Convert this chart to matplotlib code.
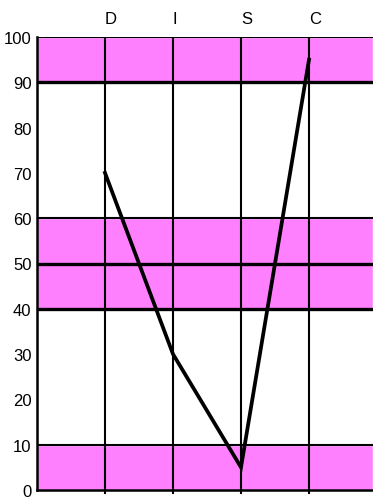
import matplotlib
matplotlib.use("Agg")
import matplotlib.pyplot as plt

# --- data ---
CATEGORIES = ["D", "I", "S", "C"]
SCORES = [70, 30, 5, 95]
BANDS = [(90, 100), (40, 60), (0, 10)]          # shaded zones
THICK_LINES = [90, 50, 40]
THIN_LINES = [60, 10, 100]
Y_TICKS = list(range(0, 101, 10))

PINK = "#ff80ff"

plt.rcParams["font.family"] = ["Liberation Sans", "DejaVu Sans"]

fig = plt.figure(figsize=(3.73, 5.02), dpi=100)
ax = fig.add_axes([37 / 373, 11 / 502, 336 / 373, 453 / 502])

xs = list(range(1, len(CATEGORIES) + 1))
ax.set_xlim(0, 336 / 68)
ax.set_ylim(0, 100)

for lo, hi in BANDS:
    ax.axhspan(lo, hi, facecolor=PINK, edgecolor="white", lw=1.0, zorder=0)
for y in THIN_LINES:
    ax.axhline(y, color="black", lw=1.5, zorder=1)
for y in THICK_LINES:
    ax.axhline(y, color="black", lw=2.4, zorder=1)
for x in xs:
    ax.axvline(x, color="black", lw=1.5, zorder=1)

ax.plot(xs, SCORES, color="black", lw=2.7, solid_joinstyle="miter", zorder=3)

# category labels on top, left-aligned at each column line
for x, c in zip(xs, CATEGORIES):
    ax.text(x, 1.025, c, transform=ax.get_xaxis_transform(), ha="left",
            va="bottom", fontsize=12, color="black")

ax.set_yticks(Y_TICKS)
ax.set_yticklabels([str(v) for v in Y_TICKS], fontsize=12)
ax.tick_params(axis="y", length=0, pad=4)
ax.set_xticks(xs)
ax.set_xticklabels([])
ax.tick_params(axis="x", length=3, width=1.5, direction="out")

for side in ("top", "right"):
    ax.spines[side].set_visible(False)
ax.spines["left"].set_linewidth(1.8)
ax.spines["bottom"].set_linewidth(1.8)

fig.savefig("out.png", dpi=100)
